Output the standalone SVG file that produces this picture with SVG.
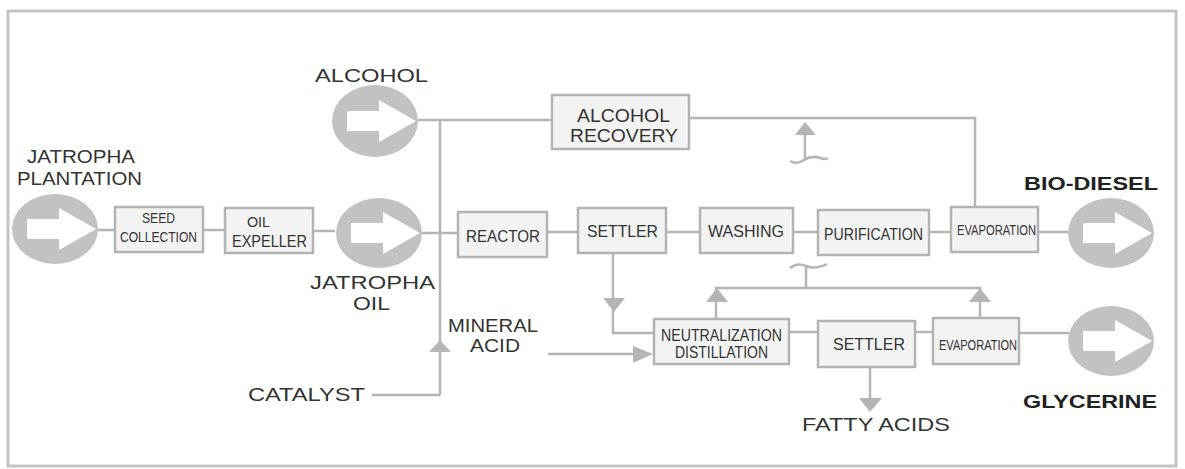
<svg xmlns="http://www.w3.org/2000/svg" xmlns:xlink="http://www.w3.org/1999/xlink" width="1185" height="469" viewBox="0 0 1185 469">
<style>
text{font-family:"Liberation Sans",Arial,sans-serif;fill:#333;}
.lbl{font-size:19px;}
.bold{font-size:19px;font-weight:bold;fill:#222;}
.box rect{fill:#f3f3f3;stroke:#b3b3b3;stroke-width:2.5;}
.bt{font-size:17px;}
.st{font-size:15px;}
.circ ellipse{fill:#c2c2c2;}
.circ path{fill:#fff;}
#connectors path,#connectors line{stroke:#b5b5b5;stroke-width:2.5;fill:none;}
#connectors polygon{fill:#b5b5b5;}
</style>
<defs>
<path id="arr" d="M-28,-10 L4,-10 L4,-21 L41,0 L4,21 L4,10 L-28,10 Z"/>
</defs>
<rect x="0" y="0" width="1185" height="469" fill="#fff"/>
<rect x="8" y="11" width="1168" height="455" fill="#fff" stroke="#c4c4c4" stroke-width="3"/>

<g id="connectors">
<line x1="98" y1="230" x2="115" y2="230"/>
<line x1="203" y1="230" x2="225" y2="230"/>
<line x1="313" y1="231" x2="335" y2="231"/>
<line x1="422" y1="233" x2="458" y2="233"/>
<line x1="418" y1="120" x2="552" y2="120"/>
<line x1="440" y1="120" x2="440" y2="395"/>
<path d="M372,395 L440,395"/>
<polygon points="429,352 451,352 440,340"/>
<line x1="548" y1="354" x2="640" y2="354"/>
<polygon points="633,346 633,363 653,354"/>
<path d="M689,118 L975,118 L975,207"/>
<line x1="805" y1="128" x2="805" y2="159"/>
<polygon points="795,135 816,135 805,122"/>
<path d="M790,161 Q797,165 804,160 Q812,155 820,158 Q825,160 828,158"/>
<line x1="547" y1="232" x2="578" y2="232"/>
<line x1="666" y1="232" x2="700" y2="232"/>
<line x1="793" y1="232" x2="818" y2="232"/>
<line x1="929" y1="232" x2="951" y2="232"/>
<line x1="1038" y1="232" x2="1069" y2="232"/>
<path d="M613,253 L613,333 L654,333"/>
<polygon points="603,298 625,298 614,312"/>
<path d="M716,319 L716,288 L980,288 L980,318"/>
<polygon points="706,302 728,302 717,288"/>
<polygon points="969,302 991,302 980,288"/>
<line x1="806" y1="288" x2="806" y2="267"/>
<path d="M790,268 Q797,262 806,266 Q815,270 827,264"/>
<line x1="789" y1="332" x2="818" y2="332"/>
<line x1="915" y1="332" x2="933" y2="332"/>
<line x1="1019" y1="333" x2="1069" y2="333"/>
<line x1="870" y1="367" x2="870" y2="405"/>
<polygon points="859,398 882,398 870,412"/>
</g>

<g id="jatropha-plantation" class="circ">
<ellipse cx="55" cy="229" rx="43" ry="35"/>
<use xlink:href="#arr" href="#arr" x="55" y="229" fill="#fff"/>
<text class="lbl" x="27" y="163" textLength="108" lengthAdjust="spacingAndGlyphs">JATROPHA</text>
<text class="lbl" x="17" y="185" textLength="125" lengthAdjust="spacingAndGlyphs">PLANTATION</text>
</g>

<g id="seed-collection" class="box">
<rect x="115" y="207" width="88" height="45"/>
<text class="st" x="142" y="223" textLength="33" lengthAdjust="spacingAndGlyphs">SEED</text>
<text class="st" x="120" y="242" textLength="77" lengthAdjust="spacingAndGlyphs">COLLECTION</text>
</g>

<g id="oil-expeller" class="box">
<rect x="225" y="208" width="88" height="45"/>
<text class="st" x="247" y="227" textLength="23" lengthAdjust="spacingAndGlyphs">OIL</text>
<text class="bt" x="232" y="247" textLength="75" lengthAdjust="spacingAndGlyphs">EXPELLER</text>
</g>

<g id="jatropha-oil" class="circ">
<ellipse cx="379" cy="233" rx="43" ry="35"/>
<use xlink:href="#arr" href="#arr" x="379" y="233" fill="#fff"/>
<text class="lbl" x="310" y="289" textLength="125" lengthAdjust="spacingAndGlyphs">JATROPHA</text>
<text class="lbl" x="353" y="310" textLength="37" lengthAdjust="spacingAndGlyphs">OIL</text>
</g>

<g id="alcohol" class="circ">
<ellipse cx="375" cy="121" rx="43" ry="36"/>
<use xlink:href="#arr" href="#arr" x="375" y="121" fill="#fff"/>
<text class="lbl" x="315" y="82" textLength="113" lengthAdjust="spacingAndGlyphs">ALCOHOL</text>
</g>

<g id="alcohol-recovery" class="box">
<rect x="552" y="95" width="137" height="54"/>
<text class="lbl" x="577" y="122" textLength="93" lengthAdjust="spacingAndGlyphs">ALCOHOL</text>
<text class="lbl" x="570" y="142" textLength="108" lengthAdjust="spacingAndGlyphs">RECOVERY</text>
</g>

<g id="reactor" class="box">
<rect x="458" y="212" width="89" height="45"/>
<text class="bt" x="466" y="242" textLength="74" lengthAdjust="spacingAndGlyphs">REACTOR</text>
</g>

<g id="settler-1" class="box">
<rect x="578" y="208" width="88" height="45"/>
<text class="bt" x="587" y="237" textLength="71" lengthAdjust="spacingAndGlyphs">SETTLER</text>
</g>

<g id="washing" class="box">
<rect x="700" y="208" width="93" height="45"/>
<text class="bt" x="708" y="237" textLength="76" lengthAdjust="spacingAndGlyphs">WASHING</text>
</g>

<g id="purification" class="box">
<rect x="818" y="210" width="111" height="45"/>
<text class="bt" x="824" y="240" textLength="99" lengthAdjust="spacingAndGlyphs">PURIFICATION</text>
</g>

<g id="evaporation-1" class="box">
<rect x="951" y="207" width="87" height="45"/>
<text class="st" x="957" y="235" textLength="79" lengthAdjust="spacingAndGlyphs">EVAPORATION</text>
</g>

<g id="bio-diesel" class="circ">
<ellipse cx="1111" cy="233" rx="43" ry="35"/>
<use xlink:href="#arr" href="#arr" x="1111" y="233" fill="#fff"/>
<text class="bold" x="1024" y="190" textLength="134" lengthAdjust="spacingAndGlyphs">BIO-DIESEL</text>
</g>

<g id="neutralization-distillation" class="box">
<rect x="654" y="319" width="135" height="45"/>
<text class="bt" x="661" y="341" textLength="121" lengthAdjust="spacingAndGlyphs">NEUTRALIZATION</text>
<text class="bt" x="675" y="358" textLength="93" lengthAdjust="spacingAndGlyphs">DISTILLATION</text>
</g>

<g id="settler-2" class="box">
<rect x="818" y="321" width="97" height="46"/>
<text class="bt" x="833" y="350" textLength="72" lengthAdjust="spacingAndGlyphs">SETTLER</text>
</g>

<g id="evaporation-2" class="box">
<rect x="933" y="318" width="86" height="46"/>
<text class="st" x="939" y="350" textLength="78" lengthAdjust="spacingAndGlyphs">EVAPORATION</text>
</g>

<g id="glycerine" class="circ">
<ellipse cx="1111" cy="341" rx="43" ry="35"/>
<use xlink:href="#arr" href="#arr" x="1111" y="341" fill="#fff"/>
<text class="bold" x="1023" y="408" textLength="134" lengthAdjust="spacingAndGlyphs">GLYCERINE</text>
</g>

<g id="mineral-acid">
<text class="lbl" x="448" y="332" textLength="90" lengthAdjust="spacingAndGlyphs">MINERAL</text>
<text class="lbl" x="470" y="352" textLength="50" lengthAdjust="spacingAndGlyphs">ACID</text>
</g>

<g id="catalyst">
<text class="lbl" x="248" y="401" textLength="117" lengthAdjust="spacingAndGlyphs">CATALYST</text>
</g>

<g id="fatty-acids">
<text class="lbl" x="802" y="431" textLength="148" lengthAdjust="spacingAndGlyphs">FATTY ACIDS</text>
</g>
</svg>
